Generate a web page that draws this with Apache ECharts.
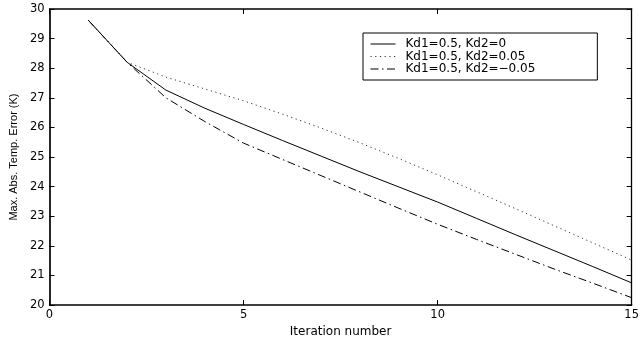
<!DOCTYPE html>
<html>
<head>
<meta charset="utf-8">
<script src="https://cdn.jsdelivr.net/npm/echarts@6/dist/echarts.min.js"></script>
<style>
html,body{margin:0;padding:0;background:#fff;}
#chart{width:642px;height:343px;}
</style>
</head>
<body>
<div id="chart"></div>
<script>
var iterations = [1,2,3,4,5,6,7,8,9,10,11,12,13,14,15];
var kd2Zero   = [29.62, 28.2, 27.26, 26.65, 26.1, 25.56, 25.03, 24.5, 23.99, 23.48, 22.93, 22.38, 21.84, 21.3, 20.75];
var kd2Pos    = [29.62, 28.2, 27.7, 27.3, 26.9, 26.45, 25.98, 25.48, 24.95, 24.4, 23.83, 23.26, 22.68, 22.1, 21.52];
var kd2Neg    = [29.62, 28.2, 27.0, 26.2, 25.47, 24.92, 24.37, 23.82, 23.27, 22.73, 22.22, 21.72, 21.22, 20.74, 20.25];
var seriesNames = ['Kd1=0.5, Kd2=0', 'Kd1=0.5, Kd2=0.05', 'Kd1=0.5, Kd2=\u22120.05'];
var xTitle = 'Iteration number';
var yTitle = 'Max. Abs. Temp. Error (K)';

function pairs(xs, ys){ return xs.map(function(x,i){ return [x, ys[i]]; }); }

var tickFont = {fontFamily:'DejaVu Sans', fontSize:11.5, color:'#000'};
var chart = echarts.init(document.getElementById('chart'));
var frameX = {
  type:'value', min:0, max:15, interval:5,
  axisLine:{show:true, onZero:false, lineStyle:{color:'#000', width:1.5}},
  axisTick:{show:true, inside:true, length:5, lineStyle:{color:'#000', width:1}},
  splitLine:{show:false}
};
var frameY = {
  type:'value', min:20, max:30, interval:1,
  axisLine:{show:true, onZero:false, lineStyle:{color:'#000', width:1.7}},
  axisTick:{show:true, inside:true, length:5, lineStyle:{color:'#000', width:1}},
  splitLine:{show:false}
};
chart.setOption({
  animation:false,
  backgroundColor:'#fff',
  grid:{left:49, right:8, top:9, bottom:30, containLabel:false},
  legend:{
    show:true, orient:'vertical', left:363, top:33,
    data:seriesNames,
    itemWidth:25, itemHeight:12, itemGap:0.5,
    padding:[5,62,5,7],
    borderColor:'#000', borderWidth:1, backgroundColor:'#fff',
    itemStyle:{color:'rgba(0,0,0,0)', borderColor:'rgba(0,0,0,0)', borderWidth:0, opacity:0},
    lineStyle:{width:1},
    textStyle:{fontFamily:'DejaVu Sans', fontSize:12, color:'#000', padding:[0,0,0,5]}
  },
  xAxis:[
    Object.assign({}, frameX, {position:'bottom',
      name:xTitle, nameLocation:'middle', nameGap:15,
      nameTextStyle:{fontFamily:'DejaVu Sans', fontSize:12, color:'#000'},
      axisLabel:Object.assign({show:true, margin:4}, tickFont)}),
    Object.assign({}, frameX, {position:'top', axisLabel:{show:false}})
  ],
  yAxis:[
    Object.assign({}, frameY, {position:'left',
      name:yTitle, nameLocation:'middle', nameGap:24, nameRotate:90,
      nameTextStyle:{fontFamily:'Liberation Sans', fontSize:11, color:'#000'},
      axisLabel:Object.assign({show:true, margin:5}, tickFont)}),
    Object.assign({}, frameY, {position:'right', axisLabel:{show:false},
      axisLine:{show:true, onZero:false, lineStyle:{color:'#000', width:1.3}}})
  ],
  series:[
    {name:seriesNames[0], type:'line', xAxisIndex:0, yAxisIndex:0, symbol:'none',
     data:pairs(iterations, kd2Zero), lineStyle:{color:'#000', width:1, type:'solid'}, itemStyle:{color:'#000'}},
    {name:seriesNames[1], type:'line', xAxisIndex:0, yAxisIndex:0, symbol:'none',
     data:pairs(iterations, kd2Pos), lineStyle:{color:'#333', width:1, type:[1.2,3.5]}, itemStyle:{color:'#333'}},
    {name:seriesNames[2], type:'line', xAxisIndex:0, yAxisIndex:0, symbol:'none',
     data:pairs(iterations, kd2Neg), lineStyle:{color:'#000', width:1, type:[8,3.5,1.5,3.5]}, itemStyle:{color:'#000'}}
  ]
});
</script>
</body>
</html>
